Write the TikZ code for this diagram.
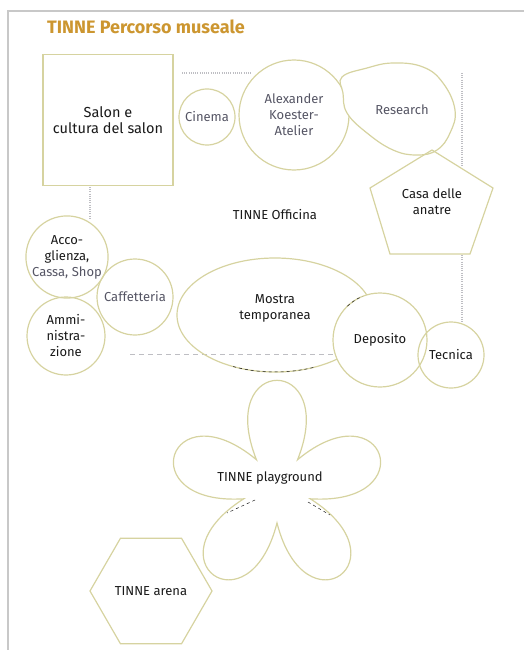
\documentclass[tikz,border=0pt]{standalone}
\usepackage{fontspec}
\setmainfont{Fira Sans}
\usetikzlibrary{shapes.geometric,calc}
\definecolor{tinnegold}{RGB}{204,150,48}
\definecolor{tinneline}{RGB}{214,211,160}
\definecolor{tinnedot}{RGB}{190,190,195}
\definecolor{tinnegray}{RGB}{85,85,100}
\definecolor{tinneink}{RGB}{25,25,25}
\definecolor{tinneframe}{RGB}{200,200,200}

\begin{document}
\begin{tikzpicture}[x=1pt, y=-1pt,
    room/.style={draw=tinneline, line width=1.2pt},
    roundroom/.style={room, circle, inner sep=0pt, align=center,
                      font=\fontsize{13}{16}\selectfont, text=tinneink},
    lbl/.style={font=\fontsize{13}{16}\selectfont, align=center, text=tinneink},
    dotline/.style={draw=tinnedot, line width=1.2pt, dash pattern=on 1pt off 1.2pt},
    dashline/.style={draw=tinnedot, line width=1pt, dash pattern=on 5pt off 4pt},
    hidden/.style={draw=tinneink, line width=0.5pt, dash pattern=on 3pt off 3pt}
  ]
  \useasboundingbox (0,0) rectangle (524,650);

  % page frame
  \draw[tinneframe, line width=1.5pt] (524,11) -- (8,11) -- (8,650);

  % title
  \node[anchor=west, inner sep=0pt, font=\fontsize{18}{21}\selectfont\bfseries, text=tinnegold]
    (title) at (47,27) {TINNE Percorso museale};

  % Officina outline
  \draw[dotline] (182,73) -- (252,73);
  \draw[dotline] (462,73) -- (462,167);
  \draw[dotline] (462,255) -- (462,322);
  \draw[dotline] (90,187) -- (90,219);
  \draw[dashline] (130,354) -- (335,354);

  % upper rooms
  \node[room, minimum width=130pt, minimum height=131pt, align=center, font=\fontsize{14.5}{16}\selectfont,
        text=tinneink] (salon) at (108,120) {Salon e\\cultura del salon};
  \node[roundroom, minimum size=56pt, text=tinnegray] (cinema) at (207,117) {Cinema};
  \node[roundroom, minimum size=110pt, text=tinnegray] (atelier) at (294,115) {Alexander\\Koester-\\Atelier};

  \draw[room, fill=white] plot[smooth cycle, tension=0.7] coordinates {(342,77) (367,68) (393,63) (423,67) (443,83)
    (455,110) (450,133) (437,150) (417,155) (393,150) (367,133) (347,113) (343,93)};
  \node[lbl, text=tinnegray] (research) at (402,110) {Research};

  \draw[room] (432,150) -- (493,188) -- (470,254) -- (390,254) -- (370,188) -- cycle;
  \node[lbl] (casa) at (432,202) {Casa delle\\anatre};

  \node[lbl] (officina) at (275,215) {TINNE Officina};

  % Officina rooms
  \node[roundroom, minimum size=78pt] (accoglienza) at (67,257)
    {Acco-\\glienza,\\\textcolor{tinnegray}{Cassa, Shop}};
  \node[roundroom, minimum size=78pt] (ammi) at (66,336) {Ammi-\\nistra-\\zione};
  \node[roundroom, minimum size=76pt, text=tinnegray] (caffe) at (135,297) {Caffetteria};
  \node[room, ellipse, minimum width=196pt, minimum height=114pt] (mostra) at (275,315) {};
  \node[lbl] at ([yshift=7pt]mostra.center) {Mostra\\temporanea};
  \node[roundroom, fill=white, minimum size=94pt] (deposito) at (380,340) {Deposito};
  \node[roundroom, minimum size=66pt] (tecnica) at (451,355) {Tecnica};

  \draw[hidden] (mostra.center) ++(67:98 and 57) arc[start angle=67, end angle=117, x radius=98, y radius=57];
  \draw[hidden] (deposito.center) ++(226:47) arc[start angle=226, end angle=248, radius=47];

  % playground
  \coordinate (fc) at (277,488);
  \draw[room] ($(fc)+(-126:35)$)
    \foreach \a in {-90,-18,54,126,198} {
      .. controls ($(fc)+({\a-25}:148)$) and ($(fc)+({\a+25}:148)$) .. ($(fc)+({\a+36}:35)$)
    } -- cycle;
  \node[lbl] (playground) at (270,478) {TINNE playground};
  \draw[hidden] (255,500) -- (227,513);
  \draw[hidden] (308,502) -- (330,515);

  % arena
  \node[room, regular polygon, regular polygon sides=6, minimum size=122pt, inner sep=0pt,
        font=\fontsize{13}{16}\selectfont, text=tinneink] (arena) at (151,591) {TINNE arena};
\end{tikzpicture}
\end{document}
